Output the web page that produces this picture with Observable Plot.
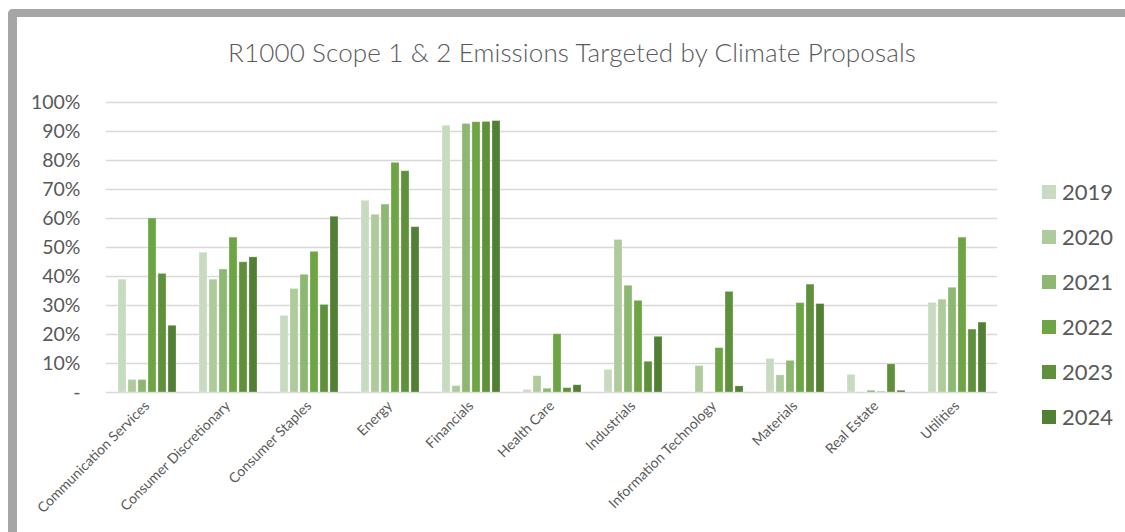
<!DOCTYPE html>
<html>
<head>
<meta charset="utf-8">
<script src="https://cdn.jsdelivr.net/npm/d3@7"></script>
<script src="https://cdn.jsdelivr.net/npm/@observablehq/plot@0.6"></script>
<style>
  html, body { margin: 0; padding: 0; background: #fff; }
  #wrap { position: relative; width: 1125px; height: 532px; overflow: hidden; background: #fff; font-family: Lato, "Open Sans", sans-serif; color: #595959; }
  #frame { position: absolute; left: 8px; top: 9px; width: 1130px; height: 540px; border-left: 9px solid #a6a6a6; border-top: 8px solid #a6a6a6; border-top-left-radius: 5px; box-sizing: border-box; }
  #title { position: absolute; left: 0; top: 36px; width: 1144px; text-align: center; font-size: 26px; letter-spacing: 0.15px; font-weight: 300; color: #595959; white-space: nowrap; }
  #chart { position: absolute; left: 0; top: 85px; }
  #legend { position: absolute; left: 1042px; top: 0; }
  .item { position: absolute; left: 0; display: flex; align-items: center; white-space: nowrap; font-size: 22px; color: #595959; }
  .sw { width: 14px; height: 14px; margin-right: 6px; }
  #chart svg [aria-label^="fx-axis"] text { font-size: 14px; }
  #chart svg [aria-label^="y-axis"] text { font-size: 19.5px; }
</style>
</head>
<body>
<div id="wrap">
  <div id="frame"></div>
  <div id="title">R1000 Scope 1 &amp; 2 Emissions Targeted by Climate Proposals</div>
  <div id="chart"></div>
  <div id="legend"></div>
</div>
<script>
const categories = ["Communication Services", "Consumer Discretionary", "Consumer Staples", "Energy", "Financials", "Health Care", "Industrials", "Information Technology", "Materials", "Real Estate", "Utilities"];
const years = ["2019", "2020", "2021", "2022", "2023", "2024"];
const colors = ["#c8dbc0", "#aecb9b", "#8cb871", "#6da544", "#5f913c", "#517f34"];
const v2019 = [38.9, 48.2, 26.4, 66.1, 92.0, 0.9, 7.8, 0, 11.6, 6.1, 30.9];
const v2020 = [4.3, 38.9, 35.7, 61.3, 2.2, 5.6, 52.6, 9.1, 5.9, 0, 32.0];
const v2021 = [4.3, 42.4, 40.6, 64.8, 92.6, 1.3, 36.8, 0, 10.9, 0.6, 36.1];
const v2022 = [60.0, 53.4, 48.5, 79.2, 93.2, 20.1, 31.6, 15.3, 30.8, 0.2, 53.4];
const v2023 = [40.9, 44.9, 30.2, 76.3, 93.3, 1.5, 10.6, 34.7, 37.2, 9.7, 21.7];
const v2024 = [23.0, 46.6, 60.6, 57.0, 93.6, 2.5, 19.2, 2.1, 30.5, 0.6, 24.1];
const yTicks = [0, 10, 20, 30, 40, 50, 60, 70, 80, 90, 100];
const yTickLabels = ["-", "10%", "20%", "30%", "40%", "50%", "60%", "70%", "80%", "90%", "100%"];

const series = [v2019, v2020, v2021, v2022, v2023, v2024];
const data = [];
categories.forEach((c, i) => {
  years.forEach((y, j) => data.push({category: c, year: y, value: series[j][i]}));
});

const chart = Plot.plot({
  width: 1000,
  height: 447,
  marginTop: 17,
  marginBottom: 140,
  marginLeft: 103,
  marginRight: 0,
  style: {fontFamily: "Lato, 'Open Sans', sans-serif", fontSize: "19px", color: "#595959", background: "transparent", overflow: "visible"},
  fx: {domain: categories, padding: 0, label: null, axis: "bottom", tickRotate: -45, tickSize: 0, tickPadding: 11},
  x: {domain: years, paddingInner: 0.21, paddingOuter: 0.81, axis: null},
  y: {domain: [0, 100], ticks: yTicks, tickFormat: d => yTickLabels[yTicks.indexOf(d)], tickSize: 0, tickPadding: 26, label: null},
  color: {domain: years, range: colors},
  marks: [
    Plot.ruleY(yTicks, {stroke: "#d9d9d9", strokeWidth: 1.5}),
    Plot.barY(data, {fx: "category", x: "year", y: "value", fill: "year", stroke: "#ffffff", strokeOpacity: 0.35, strokeWidth: 0.8})
  ]
});
document.getElementById("chart").appendChild(chart);

const legend = document.getElementById("legend");
years.forEach((y, j) => {
  const it = document.createElement("div");
  it.className = "item";
  it.style.top = (192 + 45 * j - 14) + "px";
  const sw = document.createElement("div");
  sw.className = "sw";
  sw.style.background = colors[j];
  const t = document.createElement("span");
  t.textContent = y;
  it.appendChild(sw);
  it.appendChild(t);
  legend.appendChild(it);
});
</script>
</body>
</html>
